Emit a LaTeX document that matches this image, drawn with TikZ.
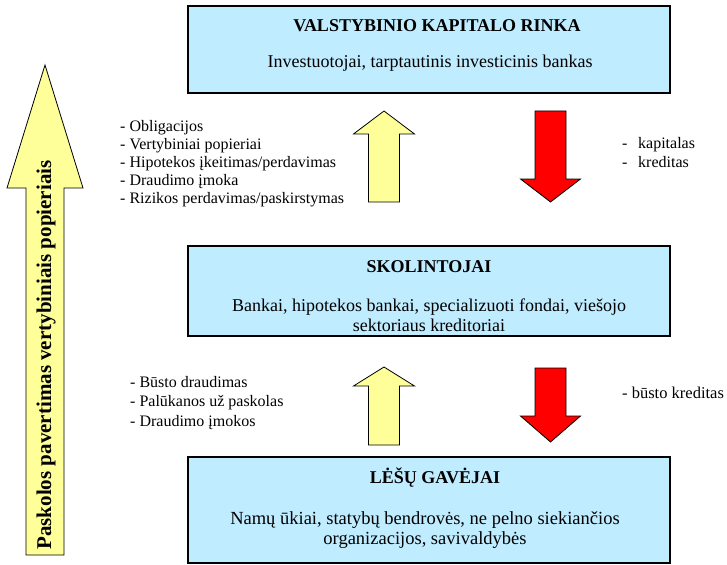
\documentclass[tikz,border=0pt]{standalone}
\usepackage{fontspec}
\setmainfont{Liberation Serif}
\usetikzlibrary{positioning}

\definecolor{levelblue}{RGB}{192,236,255}
\definecolor{flowyellow}{RGB}{255,255,153}
\definecolor{flowred}{RGB}{255,0,0}

\begin{document}
\begin{tikzpicture}[x=1pt, y=-1pt,
    font=\fontsize{16}{18.4}\selectfont,
    level/.style={draw=black, line width=1.2pt, fill=levelblue, minimum width=482pt},
    levelname/.style={font=\fontsize{18}{20}\selectfont\bfseries},
    who/.style={align=center, font=\fontsize{18}{20.5}\selectfont},
    list/.style={align=left, anchor=west, inner sep=0pt},
    upflow/.style={draw=black, line width=0.8pt, fill=flowyellow},
    downflow/.style={draw=black, line width=0.8pt, fill=flowred}]

    \useasboundingbox (0,0) rectangle (727,564);

    % three market levels
    \node[level, minimum height=87pt] (market) at (429,49.5) {};
    \node[levelname] (marketname) at (437,26) {VALSTYBINIO KAPITALO RINKA};
    \node[who] (marketwho) at (430,63) {Investuotojai, tarptautinis investicinis bankas};

    \node[level, minimum height=90pt] (lenders) at (429,291) {};
    \node[levelname] (lendersname) at (429,267) {SKOLINTOJAI};
    \node[who] (lenderswho) at (429,315) {Bankai, hipotekos bankai, specializuoti fondai, viešojo\\sektoriaus kreditoriai};

    \node[level, minimum height=106pt] (borrowers) at (429,510) {};
    \node[levelname] (borrowersname) at (435,478) {LĖŠŲ GAVĖJAI};
    \node[who, font=\fontsize{18.5}{20.5}\selectfont] (borrowerswho) at (425,530) {Namų ūkiai, statybų bendrovės, ne pelno siekiančios\\organizacijos, savivaldybės};

    % flows between levels
    \draw[upflow] (368.5,202) -- (368.5,134) -- (353.5,134) -- (384,111)
        -- (414.5,134) -- (399.5,134) -- (399.5,202) -- cycle;
    \draw[downflow] (535,111) -- (566,111) -- (566,179) -- (580.5,179)
        -- (550.5,202) -- (520.5,179) -- (535,179) -- cycle;
    \draw[upflow] (368.5,445) -- (368.5,386) -- (353.5,386) -- (384,367)
        -- (414.5,386) -- (399.5,386) -- (399.5,445) -- cycle;
    \draw[downflow] (535,368) -- (566,368) -- (566,416) -- (580.5,416)
        -- (550.5,442) -- (520.5,416) -- (535,416) -- cycle;

    \node[list, font=\fontsize{16}{18}\selectfont] (upgoods) at (120,164)
        {- Obligacijos\\- Vertybiniai popieriai\\- Hipotekos įkeitimas/perdavimas\\- Draudimo įmoka\\- Rizikos perdavimas/paskirstymas};
    \node[list] (downgoods) at (622,152.5)
        {\makebox[16pt][l]{-}kapitalas\\\makebox[16pt][l]{-}kreditas};
    \node[list, font=\fontsize{16}{19.5}\selectfont] (uppayments) at (130,403)
        {- Būsto draudimas\\- Palūkanos už paskolas\\- Draudimo įmokos};
    \node[list, font=\fontsize{16.5}{18}\selectfont] (downcredit) at (622,393) {- būsto kreditas};

    % securitisation arrow on the left
    \draw[upflow] (26,555) -- (26,188) -- (7,188) -- (45,65) -- (83,188)
        -- (64,188) -- (64,555) -- cycle;
    \node[rotate=90, font=\fontsize{21}{24}\selectfont\bfseries] (securitisation) at (46,355)
        {Paskolos pavertimas vertybiniais popieriais};
\end{tikzpicture}
\end{document}
